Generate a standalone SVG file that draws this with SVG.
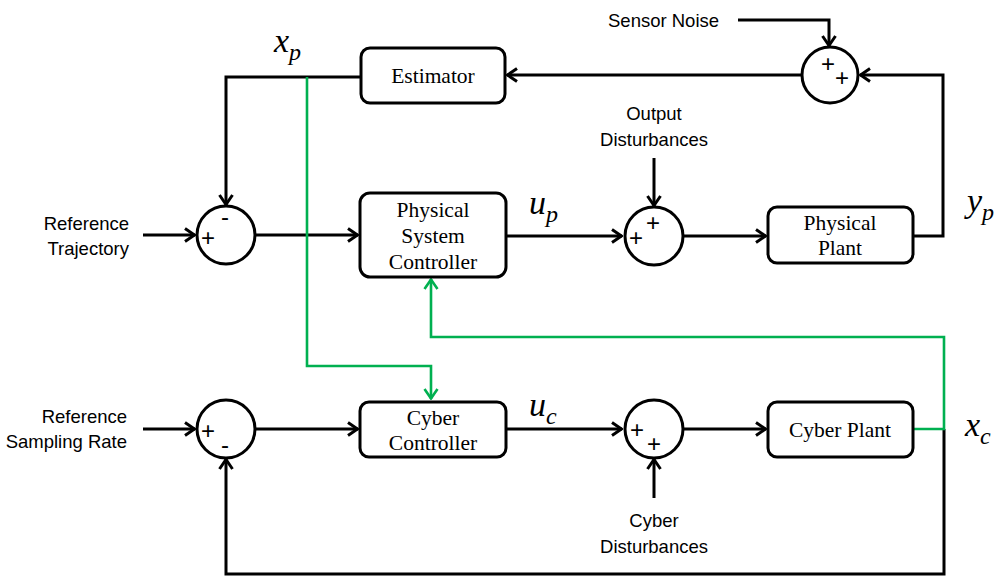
<svg xmlns="http://www.w3.org/2000/svg" width="1002" height="576" viewBox="0 0 1002 576">
<style>
.box{fill:#fff;stroke:#000;stroke-width:3}
.sum{fill:#fff;stroke:#000;stroke-width:3}
.bt{font-family:"Liberation Serif",serif;font-size:21.5px;fill:#000;text-anchor:middle}
.lt{font-family:"Liberation Sans",Arial,sans-serif;font-size:18.5px;fill:#000}
.sg{font-family:"Liberation Sans",Arial,sans-serif;font-size:24px;fill:#000;text-anchor:middle;dominant-baseline:central}
.math{font-family:"Liberation Serif",serif;font-style:italic;font-size:34px;fill:#000}
.sub{font-size:24px}
.w{fill:none;stroke:#000;stroke-width:3}
.g{fill:none;stroke:#00b050;stroke-width:2.6}
</style>
<defs>
<marker id="a" viewBox="0 0 12 16" refX="11" refY="8" markerWidth="12" markerHeight="16" markerUnits="userSpaceOnUse" orient="auto">
<path d="M1,1.5 L10.5,8 L1,14.5" fill="none" stroke="#000" stroke-width="3"/>
</marker>
<marker id="ag" viewBox="0 0 12 16" refX="11" refY="8" markerWidth="12" markerHeight="16" markerUnits="userSpaceOnUse" orient="auto">
<path d="M1,1.5 L10.5,8 L1,14.5" fill="none" stroke="#00b050" stroke-width="2.6"/>
</marker>
</defs>
<g id="connectors">
<path class="w" d="M738,20 H829 V46" marker-end="url(#a)"/>
<path class="w" d="M913,236 H943 V75 H860" marker-end="url(#a)"/>
<path class="w" d="M801,75 H507" marker-end="url(#a)"/>
<path class="w" d="M361,77 H226 V205" marker-end="url(#a)"/>
<path class="w" d="M143,235 H195" marker-end="url(#a)"/>
<path class="w" d="M256,235 H358" marker-end="url(#a)"/>
<path class="w" d="M506,236 H622" marker-end="url(#a)"/>
<path class="w" d="M654,158 V206" marker-end="url(#a)"/>
<path class="w" d="M683,236 H766" marker-end="url(#a)"/>
<path class="w" d="M143,429 H195" marker-end="url(#a)"/>
<path class="w" d="M255,429 H358" marker-end="url(#a)"/>
<path class="w" d="M506,429 H622" marker-end="url(#a)"/>
<path class="w" d="M654,498 V459" marker-end="url(#a)"/>
<path class="w" d="M683,429 H766" marker-end="url(#a)"/>
<path class="w" d="M944,429 V574 H226 V459" marker-end="url(#a)"/>
<path class="g" d="M307,77 V366 H431 V399" marker-end="url(#ag)"/>
<path class="g" d="M913,429 H944 V337 H431 V279" marker-end="url(#ag)"/>
</g>
<g id="estimator"><rect class="box" x="361" y="48" width="144" height="55" rx="9"/><text class="bt" x="433" y="83">Estimator</text></g>
<g id="sensor-sum"><circle class="sum" cx="830" cy="75" r="28"/><text class="sg" x="828" y="63">+</text><text class="sg" x="842" y="77">+</text></g>
<g id="sensor-noise"><text class="lt" x="608" y="27">Sensor Noise</text></g>
<g id="ref-sum"><circle class="sum" cx="226" cy="235" r="29"/><text class="sg" x="225" y="216">-</text><text class="sg" x="208" y="237">+</text></g>
<g id="ref-traj"><text class="lt" text-anchor="end" x="129" y="230">Reference</text><text class="lt" text-anchor="end" x="129" y="255">Trajectory</text></g>
<g id="psc"><rect class="box" x="360" y="193" width="146" height="84" rx="10"/><text class="bt" x="433" y="217">Physical</text><text class="bt" x="433" y="243">System</text><text class="bt" x="433" y="269">Controller</text></g>
<g id="out-sum"><circle class="sum" cx="654" cy="236" r="29"/><text class="sg" x="653" y="222">+</text><text class="sg" x="636" y="237">+</text></g>
<g id="out-dist"><text class="lt" text-anchor="middle" x="654" y="120">Output</text><text class="lt" text-anchor="middle" x="654" y="146">Disturbances</text></g>
<g id="pplant"><rect class="box" x="768" y="207" width="145" height="56" rx="9"/><text class="bt" x="840" y="230">Physical</text><text class="bt" x="840" y="255">Plant</text></g>
<g id="ref-rate-sum"><circle class="sum" cx="226" cy="429" r="29"/><text class="sg" x="208" y="430">+</text><text class="sg" x="225" y="444">-</text></g>
<g id="ref-rate"><text class="lt" text-anchor="end" x="127" y="423">Reference</text><text class="lt" text-anchor="end" x="127" y="448">Sampling Rate</text></g>
<g id="cctrl"><rect class="box" x="360" y="402" width="146" height="55" rx="9"/><text class="bt" x="433" y="425">Cyber</text><text class="bt" x="433" y="450">Controller</text></g>
<g id="cyber-sum"><circle class="sum" cx="654" cy="429" r="29"/><text class="sg" x="637" y="429">+</text><text class="sg" x="654" y="443">+</text></g>
<g id="cyber-dist"><text class="lt" text-anchor="middle" x="654" y="527">Cyber</text><text class="lt" text-anchor="middle" x="654" y="553">Disturbances</text></g>
<g id="cplant"><rect class="box" x="768" y="402" width="145" height="55" rx="9"/><text class="bt" x="840" y="437">Cyber Plant</text></g>
<g id="labels">
<text class="math" x="274" y="52">x<tspan class="sub" dy="8">p</tspan></text>
<text class="math" x="529" y="214">u<tspan class="sub" dy="8">p</tspan></text>
<text class="math" x="967" y="212">y<tspan class="sub" dy="8">p</tspan></text>
<text class="math" x="529" y="416">u<tspan class="sub" dy="8">c</tspan></text>
<text class="math" x="965" y="436">x<tspan class="sub" dy="8">c</tspan></text>
</g>
</svg>
